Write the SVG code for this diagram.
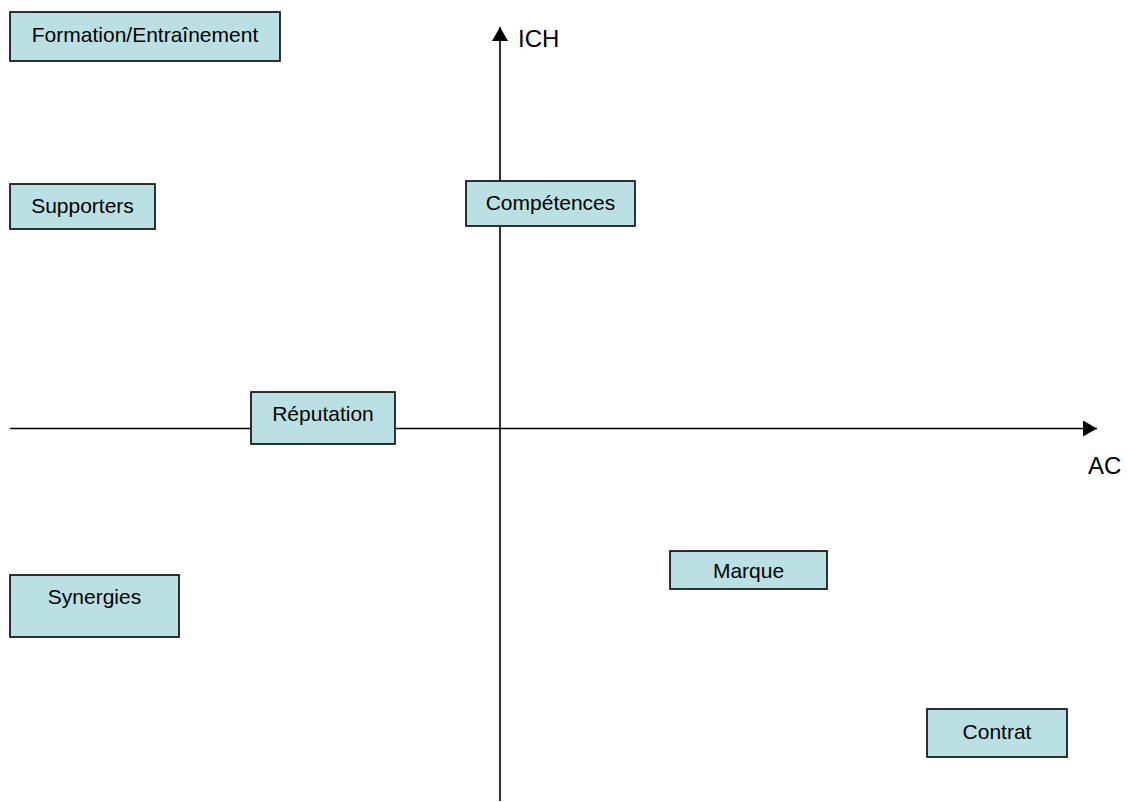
<svg xmlns="http://www.w3.org/2000/svg" width="1127" height="802" viewBox="0 0 1127 802">
<style>
.box{fill:#bbe0e3;stroke:#000;stroke-width:1.6}
.t{font-family:"Liberation Sans",Arial,sans-serif;font-size:21px;fill:#000;text-anchor:middle}
.ax{font-family:"Liberation Sans",Arial,sans-serif;font-size:24px;fill:#000}
.axis{stroke:#000;stroke-width:1.6;fill:none}
</style>
<defs>
<marker id="arr" markerWidth="14" markerHeight="16" refX="14" refY="8" orient="auto" markerUnits="userSpaceOnUse">
<path d="M0,0 L14,8 L0,16 Z" fill="#000"/>
</marker>
</defs>
<rect width="1127" height="802" fill="#fff"/>
<g id="connectors">
<line class="axis" x1="10" y1="428.5" x2="1097" y2="428.5" marker-end="url(#arr)"/>
<line class="axis" x1="500" y1="801" x2="500" y2="27" marker-end="url(#arr)"/>
</g>
<g id="labels">
<text class="ax" x="518" y="47">ICH</text>
<text class="ax" x="1088" y="474">AC</text>
</g>
<g id="formation"><rect class="box" x="10" y="12" width="270" height="49"/><text class="t" x="145" y="42">Formation/Entraînement</text></g>
<g id="supporters"><rect class="box" x="10" y="184" width="145" height="45"/><text class="t" x="82.5" y="213">Supporters</text></g>
<g id="competences"><rect class="box" x="466" y="181" width="169" height="45"/><text class="t" x="550.5" y="210">Compétences</text></g>
<g id="reputation"><rect class="box" x="251" y="392" width="144" height="52"/><text class="t" x="323" y="421">Réputation</text></g>
<g id="synergies"><rect class="box" x="10" y="575" width="169" height="62"/><text class="t" x="94.5" y="604">Synergies</text></g>
<g id="marque"><rect class="box" x="670" y="551" width="157" height="38"/><text class="t" x="748.5" y="578">Marque</text></g>
<g id="contrat"><rect class="box" x="927" y="709" width="140" height="48"/><text class="t" x="997" y="739">Contrat</text></g>
</svg>
